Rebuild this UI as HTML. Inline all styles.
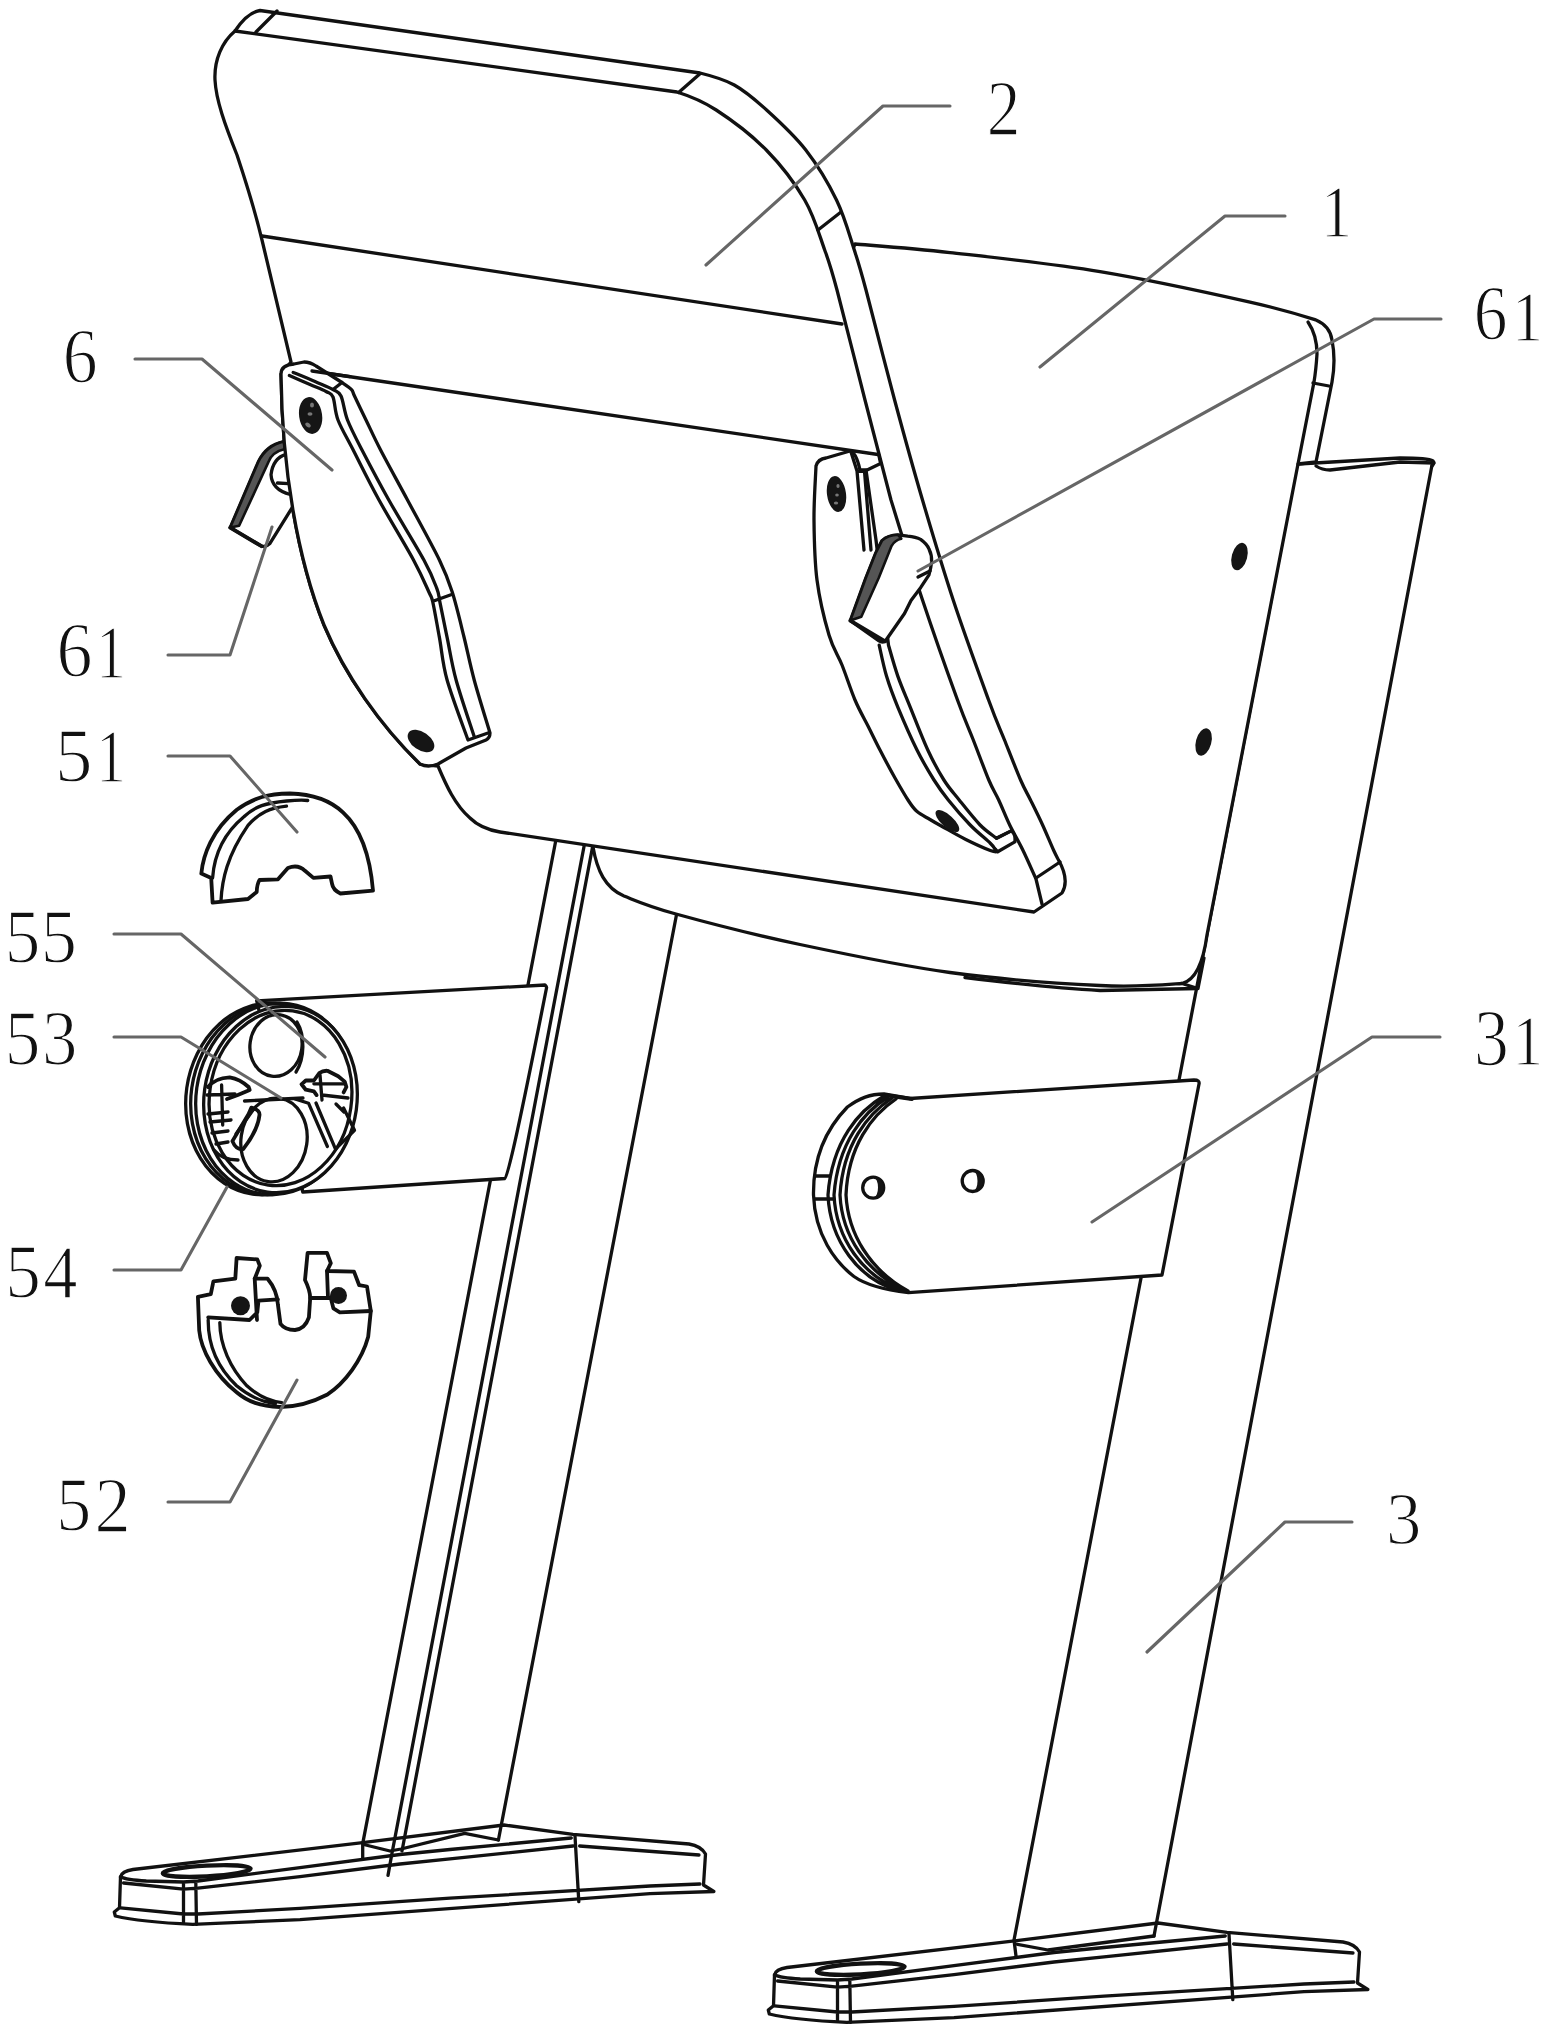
<!DOCTYPE html>
<html><head><meta charset="utf-8"><style>
html,body{margin:0;padding:0;background:#fff;}
svg{display:block;}
.l{fill:none;stroke:#111;stroke-width:3.3;stroke-linejoin:round;stroke-linecap:round;}
.b{fill:none;stroke:#111;stroke-width:3.8;stroke-linejoin:round;stroke-linecap:round;}
.w{fill:#fff;stroke:#111;stroke-width:3.3;stroke-linejoin:round;stroke-linecap:round;}
.t{fill:none;stroke:#666;stroke-width:3.1;stroke-linejoin:round;stroke-linecap:round;}
.f{fill:#151515;stroke:none;}
.n{font-family:"Liberation Serif",serif;font-size:100px;fill:#111;stroke:#fff;stroke-width:1.8px;}
</style></head><body>
<svg width="1550" height="2037" viewBox="0 0 1550 2037" xmlns="http://www.w3.org/2000/svg">

<!-- ===== FEET ===== -->
<g id="foot">
<path class="w" d="M120.5,1876.8 Q122,1871 133,1869.5 L362.7,1842.7 L504,1825 L573,1834.3 L689,1844 Q701,1846 705.5,1854 L703.5,1885 L713.8,1891.5 L650,1893.7 L300,1919.6 L192.7,1924.3 Q140,1922 115.3,1916 L114.3,1912 L119.5,1907.8 Z"/>
<path class="l" d="M120.5,1876.8 Q126,1880 146.3,1881 L183.5,1882 L197.9,1881 L300,1867.7 L400,1854.5 L450,1849.5 L571.3,1838 M123.6,1883 L183.5,1889.2 L197.9,1888.2 L300,1876.6 L400,1864 L450,1858.9 L573,1846 M579.6,1846 L699,1855 M120.5,1907.8 L183.5,1914 L197.9,1914 L300,1908.4 L450,1898.2 L650,1886 L700,1884 M183.5,1882 L183.5,1922.3 M195.8,1882 L196.5,1924.3 M575,1836 L578.8,1901.6"/>
<ellipse cx="206.7" cy="1871" rx="44" ry="5.3" fill="none" stroke="#111" stroke-width="4.2" transform="rotate(-3 206.7 1871)"/>
</g>
<use href="#foot" transform="translate(654,98)"/>

<!-- ===== LEGS ===== -->
<g id="legs">
<!-- left (far) leg -->
<path class="l" d="M555.7,841 L362.7,1843.6 L362.7,1858.6"/>
<path class="l" d="M584.3,845 L391.7,1854.8 L388,1875.4"/>
<path class="l" d="M592.6,846.8 L402,1851"/>
<path class="l" d="M676.5,914.7 L498.4,1840"/>
<path class="l" d="M363.7,1844.5 L390,1851 L401,1849 L464.7,1833.3 L498.4,1840"/>
<!-- right (near) leg -->
<path class="l" d="M1297,465 L1014,1940 L1016,1956"/>
<path class="l" d="M1432,465 L1154,1936"/>
<path class="l" d="M1016,1944 L1048,1950 L1154,1936"/>
<path class="l" d="M1298,464 L1400,458 Q1428,458 1433,461 Q1435,463 1432,466"/>
<path class="l" d="M1316,466 Q1322,470 1330,470 L1400,462 L1434,463"/>
</g>

<!-- ===== SEAT ===== -->
<g id="seat">
<path class="w" d="M855.0,244.0 C870.8,245.4 909.2,248.0 950.0,252.6 C990.8,257.2 1050.0,263.4 1100.0,271.6 C1150.0,279.9 1214.0,294.0 1250.0,302.1 C1286.0,310.2 1302.7,315.7 1316.0,320.0 Q1330,326 1332,340 Q1336,360 1332,382 L1316,462 L1298,464 L1207,935 Q1201,979 1182,983.5 C1166.2,984.6 1138.7,987.3 1100.0,985.5 C1061.3,983.7 1000.0,979.3 950.0,972.5 C900.0,965.7 845.7,954.2 800.0,944.5 C754.3,934.8 705.3,922.1 676.0,914.0 C646.7,905.9 636.7,901.0 624.0,896.0 C605,888 597,870 593,847 Z"/>
<path class="l" d="M1308,322 Q1317,335 1317,354 Q1316,370 1314,382 L1298,464"/>
<path class="l" d="M1313,383 L1329,386"/>
<path class="l" d="M1204,958 L1198,988.5 L1182,983.5 M965,977.5 Q1050,988 1100,990.5 L1198,988.5"/>
<ellipse class="f" cx="1239.5" cy="556.5" rx="7.7" ry="14" transform="rotate(15 1239.5 556.5)"/>
<ellipse class="f" cx="1203.6" cy="742" rx="7.7" ry="14" transform="rotate(15 1203.6 742)"/>
</g>

<!-- ===== BACKREST ===== -->
<g id="back">
<path class="w" d="M235,31 C241,22 250,12 260,10.5 L700,73 C711.4,75.8 723.2,78.8 734.3,85.0 C745.4,91.2 754.7,99.2 766.6,110.0 C778.5,120.8 794.1,135.0 805.8,150.0 C817.4,165.0 828.4,183.3 836.5,200.0 C844.6,216.7 849.4,235.0 854.3,250.0 C859.2,265.0 859.3,265.0 866.0,290.0 C872.7,315.0 885.2,365.0 894.6,400.0 C904.0,435.0 912.7,466.7 922.5,500.0 C932.3,533.3 942.2,566.7 953.2,600.0 C964.2,633.3 980.1,676.7 988.6,700.0 C997.1,723.3 999.2,726.7 1004.5,740.0 C1009.8,753.3 1016.3,770.0 1020.6,780.0 C1024.9,790.0 1026.8,792.5 1030.5,800.0 C1034.2,807.5 1038.8,816.7 1042.6,825.0 C1046.4,833.3 1050.9,844.3 1053.5,850.0 C1056.1,855.7 1057.2,857.5 1058.0,859.0 Q1070,880 1062,893 L1034,912 L500,832 C488,830 478,826 470,818 C455,805 446,785 438,766 L420,764 C380,725 345,675 324,625 C298,560 282,470 281,374 L291,362 L262,240 C256,215 247,185 237,155 C225,125 216,100 215,80 C214,60 222,42 235,31 Z"/>
<path class="l" d="M235,31 L677,92 C689.2,95.8 701.3,100.3 716.2,110.0 C731.1,119.7 751.5,135.0 766.3,150.0 C781.0,165.0 795.0,183.3 804.7,200.0 C814.4,216.7 819.3,235.0 824.7,250.0 C830.1,265.0 830.3,265.0 837.0,290.0 C843.7,315.0 856.0,365.0 865.0,400.0 C874.0,435.0 886.7,483.3 891.0,500.0 C896.2,516.7 911.4,566.7 922.5,600.0 C933.6,633.3 949.0,676.7 957.5,700.0 C966.0,723.3 968.1,726.7 973.3,740.0 C978.5,753.3 984.6,770.0 988.8,780.0 C993.0,790.0 995.2,792.5 998.7,800.0 C1002.2,807.5 1005.7,816.7 1009.7,825.0 C1013.7,833.3 1018.4,841.0 1022.8,850.0 C1027.2,859.0 1033.8,874.2 1036.0,879.0 L1042,904"/>
<path class="l" d="M277,11 L256,32 M700,73.7 L678.6,92.4 M841,212 L818,230 M1036,878 L1060,862"/>
<path class="l" d="M262,236 L842,324"/>
<path class="l" d="M318,372 L878,454.5"/>
</g>

<!-- left lever 61 (behind bracket) -->
<g id="levL">
<path class="w" d="M292.8,506.6 L269.8,543.6 Q266,547.5 261.5,546.2 L230.2,527.6 L258.3,461.9 Q266,445 283.8,441.5 L300,441 L300,506 Z"/>
<path d="M230.2,527.6 L258.3,461.9 Q266,446 283.8,441.5 L285,449 Q272,452 268.5,461.9 L239.1,525.7 Z" fill="#555" stroke="#111" stroke-width="2.6" stroke-linejoin="round"/>
<path class="b" d="M230.2,527.6 L261.5,546.2"/>
<path class="l" d="M286,454.3 Q273,458 271,474.7 Q272,490 290.2,494.5 M277.4,483 L289,483.6"/>
</g>
<!-- ===== LEFT BRACKET 6 ===== -->
<g id="brL">
<path class="w" d="M281,374 Q281,365 294,364 L304,362 Q310,362 316,366 L342,382.5 C343.6,383.6 349.2,387.1 351.3,389.4 C353.4,391.6 352.1,390.9 354.5,396.0 C356.9,401.1 361.6,411.0 366.0,420.0 C370.4,429.0 373.7,436.7 380.6,450.0 C387.5,463.3 397.7,481.7 407.5,500.0 C417.3,518.3 431.9,544.6 439.4,560.0 C446.9,575.4 448.2,579.5 452.3,592.3 C456.4,605.1 460.4,622.4 464.0,637.0 C467.6,651.6 469.9,664.0 474.2,680.0 C478.5,696.0 487.4,724.2 490.0,733.0 Q490,738 486,740 L466,748 L438,764 Q428,768 420,764 C380,725 345,675 324,625 C298,560 282,470 281,374 Z"/>
<path class="l" d="M289.4,375.5 C292.8,377.0 303.9,381.8 310.0,384.5 C316.1,387.2 322.2,389.4 326.0,391.5 C329.8,393.6 331.0,392.2 333.0,397.0 C335.0,401.8 334.6,411.2 338.0,420.0 C341.4,428.8 346.4,436.7 353.2,450.0 C360.0,463.3 368.9,481.7 379.0,500.0 C389.1,518.3 405.2,544.6 413.5,560.0 C421.8,575.4 425.8,585.2 429.0,592.3 C432.2,599.4 431.2,595.1 432.9,602.6 C434.6,610.1 437.0,624.5 439.4,637.4 C441.8,650.3 442.3,662.9 447.1,680.0 C451.9,697.1 464.5,730.0 468.0,740.0 M293.2,372.4 C296.8,373.9 308.4,378.6 315.0,381.5 C321.6,384.4 328.7,387.1 333.0,389.5 C337.3,391.9 338.6,390.9 341.0,396.0 C343.4,401.1 344.0,411.0 347.5,420.0 C351.0,429.0 355.1,436.7 362.0,450.0 C368.9,463.3 378.5,481.7 388.8,500.0 C399.1,518.3 415.9,545.3 423.9,560.0 C431.9,574.7 434.1,581.3 436.8,588.4 C439.5,595.5 438.3,594.4 440.0,602.6 C441.7,610.8 444.4,624.5 447.1,637.4 C449.8,650.3 451.6,663.6 456.1,680.0 C460.6,696.4 471.0,726.7 474.0,736.0 M432.9,601.3 L451,594.8 M468,740 L488,733 M333,389.5 L342,382.5"/>
<path class="l" d="M312,371 L350,376.6"/>
<ellipse class="f" cx="310.6" cy="415.5" rx="11.5" ry="18.5" transform="rotate(-8 310.6 415.5)"/>
<g fill="#777"><ellipse cx="312" cy="405" rx="2" ry="2.5"/><ellipse cx="310" cy="414" rx="2.5" ry="1.8"/><ellipse cx="308" cy="425" rx="3" ry="2" transform="rotate(40 308 425)"/></g>
<ellipse class="f" cx="421" cy="741" rx="15" ry="9" transform="rotate(35 421 741)"/>
</g>


<!-- ===== RIGHT BRACKET 6 ===== -->
<g id="brR">
<path class="w" d="M816,466 Q818,459 826,458 L850,451 Q856,452 860,470 L866,470 L876,540 L888.5,645.2 C890.0,650.4 894.2,665.8 897.8,676.1 C901.4,686.4 905.2,694.8 910.2,707.1 C915.2,719.4 922.2,737.9 927.8,750.0 C933.4,762.1 938.7,771.7 943.9,780.0 C949.1,788.3 953.2,792.5 959.2,800.0 C965.2,807.5 973.9,818.6 980.1,825.0 C986.3,831.4 993.8,836.1 996.5,838.3 L1011.2,830.9 Q1016,834 1014.8,841.9 L997.7,851.7 C996.5,851.5 995.6,852.5 990.3,850.5 C985.0,848.5 974.0,843.6 965.8,839.5 C957.6,835.4 947.3,829.3 941.3,826.0 C935.3,822.7 934.1,822.0 930.0,819.5 C925.9,817.0 920.5,814.5 916.8,811.3 C913.1,808.0 911.6,805.5 908.0,800.0 C904.4,794.5 899.7,786.3 895.0,778.0 C890.3,769.7 884.5,758.7 880.0,750.0 C875.5,741.3 872.2,734.3 868.0,726.0 C863.8,717.7 859.3,710.2 855.0,700.0 C850.7,689.8 846.3,675.8 842.0,665.0 C837.7,654.2 833.2,649.2 829.0,635.0 C824.8,620.8 819.5,599.2 817.0,580.0 C814.5,560.8 814.2,539.0 814.0,520.0 C813.8,501.0 815.7,475.0 816.0,466.0 Z"/>
<path class="l" d="M851,452 L857,471 L864,550 M864.5,471.3 L871,550 M857,471 L864.5,471.3 L880.6,463.5 L878.7,454.5"/>
<path class="l" d="M879.2,645.2 C880.4,650.4 883.4,665.8 886.5,676.1 C889.6,686.4 892.7,694.8 897.8,707.1 C902.9,719.4 911.0,737.9 917.0,750.0 C923.0,762.1 928.8,771.7 934.0,780.0 C939.2,788.3 942.3,792.5 948.3,800.0 C954.3,807.5 963.2,817.8 970.2,825.0 C977.2,832.2 986.2,839.2 990.3,843.2 C994.4,847.2 994.2,848.0 995.0,849.0"/>
<path class="l" d="M996.5,838.3 L1011.2,830.9 M995,849 L997.7,851.7"/>
<ellipse class="f" cx="836.5" cy="494" rx="9.5" ry="18" transform="rotate(-8 836.5 494)"/>
<g fill="#777"><ellipse cx="838" cy="486" rx="1.6" ry="2"/><ellipse cx="837" cy="495" rx="1.8" ry="1.5"/><ellipse cx="836" cy="503" rx="2.2" ry="1.6"/></g>
<ellipse class="f" cx="947.4" cy="821.1" rx="15" ry="6" transform="rotate(42 947.4 821.1)"/>
</g>
<!-- right lever 61 -->
<g id="levR">
<path class="w" d="M850.3,620.6 L865.8,578 L875.5,553.5 L882,540.6 Q888,535 898,534.8 L907.7,536.1 Q916,537 920.6,539.4 Q927,544 929,549 Q932,555 931.6,561.9 Q931,568 929,574.8 L920.6,587.7 L911,600.6 L904.5,613.5 L885.2,641.3 Q882,643 879,641 Z"/>
<path d="M850.3,620.6 L865.8,578 L875.5,553.5 L882,540.6 Q888,535 898,534.8 L901.3,538.7 Q895,540 891.6,545.8 L878.7,578 L861.3,616.8 Z" fill="#555" stroke="#111" stroke-width="2.6" stroke-linejoin="round"/>
<path class="b" d="M850.3,620.6 L885.2,641.3"/>
<path class="l" d="M918,577 L930,571"/>
</g>

<!-- ===== PART 51 ===== -->
<path class="b" d="M201.3,873.6 C203,855 212,830 236.8,809.7 C255,797 268,794 290,793.5 C310,794 330,800 343.2,812.6 C360,828 370,855 373,890.6 L340.4,893.5 Q333,890 332,883.6 L330.5,876.5 L313.4,877.9 L305,870.8 Q298,864 287.9,868 L278,879.3 L259.5,880 Q257,884 256.7,892 L248,899 L212.6,902.7 L211.2,877.9 Z"/>
<path class="l" d="M212.6,877.9 C214,858 222,835 243.9,816.8 C255,806 266,803 286.5,801 C298,800 303,800 307.7,800.5 M221,900.6 C222,880 227,856 248,825.4 C260,812 270,808 286.5,806.2"/>

<!-- ===== LEFT TUBE + CAP ===== -->
<path class="w" d="M256.7,1000.8 L545,985 Q547,987 546.5,988 Q509,1178 505,1178.5 L302.8,1192 Z"/>
<g id="capL">
<ellipse class="l" cx="266" cy="1099" rx="80" ry="96" transform="rotate(8 266 1099)"/>
<ellipse class="l" cx="271" cy="1099" rx="80" ry="96" transform="rotate(8 271 1099)"/>
<ellipse class="l" cx="276" cy="1099" rx="80" ry="96" transform="rotate(8 276 1099)"/>
<ellipse class="w" cx="280.5" cy="1099.5" rx="76.5" ry="93.5" transform="rotate(8 280.5 1099.5)"/>
<ellipse class="l" cx="280.5" cy="1098" rx="71" ry="88" transform="rotate(8 280.5 1098)"/>
<ellipse class="l" cx="276" cy="1045.5" rx="26" ry="31" transform="rotate(8 276 1045.5)"/>
<path class="l" d="M297,1022 C305,1035 305,1058 296,1072"/>
<ellipse class="l" cx="274" cy="1140" rx="33" ry="42" transform="rotate(8 274 1140)"/>
<path class="l" d="M244.5,1101 L303,1098"/>
<!-- left clip -->
<path class="b" d="M208,1087 Q215,1078 229.7,1077.3 Q240,1079 248.6,1087 L249.7,1090 L237.8,1095 L227,1099"/>
<path class="l" d="M221.6,1085 L222.7,1125 M207,1095 L235,1094 M208,1114 L228,1112 M210,1122 L231,1120 M212,1133 L228,1131 M216,1144 L228,1142 M214,1150 Q222,1160 238,1160"/>
<path class="b" d="M251.4,1107.6 Q260,1110 259.5,1115 Q258,1130 243.2,1149.2 Q236,1150 232.4,1141.1 L248.6,1114 Z"/>
<path class="l" d="M236,1134 L253,1110"/>
<!-- right clip -->
<path class="b" d="M301.5,1084.3 L305.8,1080.5 L313.9,1080.5 L319.3,1073 Q323,1070.5 327.4,1070.8 L338.2,1076.2 L344.7,1081.6 L346.4,1087 L343.6,1092.4 M301.5,1084.3 L305.8,1089.7 L313.9,1091.4 L316.6,1095.1"/>
<path class="l" d="M313.9,1083.8 L343.6,1083.8 M322,1095 L348,1098 M320,1075 L322,1100 M295,1098.9 L308.5,1103.2 L327.4,1146.5 M316,1103 L335.5,1149.2 M343.6,1108 L354.5,1130.3 L335.5,1149.2 M336,1104 L344,1112"/>
</g>

<!-- ===== RIGHT TUBE 31 ===== -->
<path class="w" d="M884,1094 L910,1098.5 L1194,1080 Q1200,1080 1199,1084 L1162,1275 L908.4,1292.7 Q870,1288 854,1276.5 C835,1262 815,1235 813.5,1195 C813,1160 825,1130 847.4,1107 C860,1098 870,1094 884,1094 Z"/>
<path class="b" d="M884,1095 L912,1099"/>
<path class="l" d="M884,1096 C860,1110 832,1140 828,1195 C830,1240 858,1280 900,1291 M888,1097 C864,1112 838,1142 834,1195 C836,1238 862,1276 903,1291 M892,1098 C868,1114 843,1144 840,1195 C842,1236 866,1272 906,1291 M896,1099 C872,1115 848,1146 846,1195 C848,1234 870,1270 908,1291"/>
<path class="l" d="M815,1176 L830,1176 M815,1199 L834,1199"/>
<circle class="l" cx="873.2" cy="1187.7" r="10.5"/>
<circle class="l" cx="972.7" cy="1181" r="10.5"/>
<path class="f" d="M874,1178 A9.5,9.5 0 0 1 874,1197 A4,9.5 0 0 0 874,1178 Z"/>
<path class="f" d="M973.5,1171.5 A9.5,9.5 0 0 1 973.5,1190.5 A4,9.5 0 0 0 973.5,1171.5 Z"/>

<!-- ===== PART 52 ===== -->
<path class="b" d="M197.9,1296.8 L199.2,1330.3 C201,1350 215,1375 236.6,1392.3 C248,1402 260,1406 280,1407 C300,1407 315,1401 326.9,1394.8 C345,1383 362,1360 368.2,1336.8 L370.8,1311 L367,1286.5 L359.2,1285.2 L354,1271.6 L327,1271 L330.8,1263.2 L327,1252.9 L307.6,1252.9 L305,1280 Q310,1290 310.2,1298 L308.9,1317.4 Q305,1329 295,1330 Q285,1330 280.5,1323.9 L277.9,1304.5 Q277,1290 267.6,1278.7 L254.7,1278.7 L259.8,1265.8 L257.3,1259.4 L236.6,1258 L235.3,1278.7 L213.4,1281.3 L210.8,1294.2 Z"/>
<path class="l" d="M208.2,1320 C208,1345 218,1368 236.6,1385.8 C250,1397 262,1402 275.3,1403.9 M219.8,1322.6 C220,1345 230,1368 246.9,1385.8 C258,1396 268,1401 281.8,1402.6"/>
<path class="b" d="M208.2,1317.4 L249.5,1320 L257.3,1312.3 L258.5,1300.6 L277.9,1299.4 M254.7,1278.7 L257,1320 M310.2,1298 L330.8,1298 L333.4,1308.4 L339.8,1312.3 L370.8,1311 M327,1271 L328,1298"/>
<circle class="f" cx="240.5" cy="1305.8" r="9.5"/>
<circle class="f" cx="338.5" cy="1295.5" r="8.5"/>

<!-- ===== LEADERS ===== -->
<g class="t">
<polyline points="950,106 883,106 706,265"/>
<polyline points="1285,216 1225,216 1040,367"/>
<polyline points="1441,319 1374,319 918,571"/>
<polyline points="135,359 202,359 332,470"/>
<polyline points="168,655 230,655 272,527"/>
<polyline points="168,756 230,756 297,832"/>
<polyline points="114,934 181,934 325,1057"/>
<polyline points="114,1037 181,1037 281,1098"/>
<polyline points="114,1270 181,1270 227,1187"/>
<polyline points="168,1502 230,1502 297,1380"/>
<polyline points="1440,1037 1372,1037 1092,1222"/>
<polyline points="1352,1522 1285,1522 1147,1652"/>
</g>

<!-- ===== LABELS ===== -->
<g class="n">
<text transform="translate(986.80,133.50) scale(0.6750,0.7846)">2</text>
<text transform="translate(1320.84,236.50) scale(0.6286,0.7424)">1</text>
<text transform="translate(1473.80,338.95) scale(0.6744,0.7761)">6</text>
<text transform="translate(1511.84,340.50) scale(0.6286,0.7273)">1</text>
<text transform="translate(62.71,381.92) scale(0.6977,0.7910)">6</text>
<text transform="translate(56.62,675.92) scale(0.7209,0.7910)">6</text>
<text transform="translate(96.10,677.50) scale(0.6000,0.7576)">1</text>
<text transform="translate(55.00,780.74) scale(0.7500,0.7576)">5</text>
<text transform="translate(96.10,781.50) scale(0.6000,0.7576)">1</text>
<text transform="translate(4.72,961.74) scale(0.7125,0.7576)">5</text>
<text transform="translate(40.65,961.74) scale(0.7250,0.7576)">5</text>
<text transform="translate(4.72,1063.73) scale(0.7125,0.7727)">5</text>
<text transform="translate(41.96,1063.73) scale(0.7073,0.7727)">3</text>
<text transform="translate(5.22,1296.74) scale(0.7125,0.7576)">5</text>
<text transform="translate(43.13,1297.50) scale(0.6848,0.7692)">4</text>
<text transform="translate(56.30,1529.74) scale(0.7000,0.7576)">5</text>
<text transform="translate(94.60,1530.50) scale(0.7250,0.7846)">2</text>
<text transform="translate(1474.02,1064.70) scale(0.6951,0.8030)">3</text>
<text transform="translate(1512.47,1064.50) scale(0.6143,0.7273)">1</text>
<text transform="translate(1385.96,1543.76) scale(0.7073,0.7424)">3</text>
</g>
</svg>
</body></html>
